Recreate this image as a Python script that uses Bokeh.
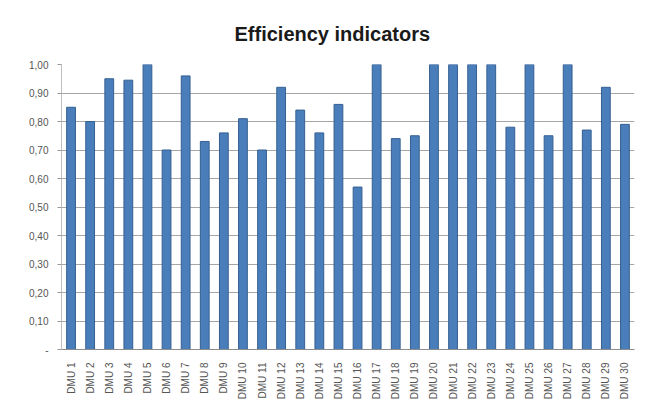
import math
from bokeh.plotting import figure
from bokeh.models import FixedTicker, Range1d, FactorRange, ColumnDataSource
from bokeh.embed import file_html
from bokeh.resources import INLINE

categories = ["DMU 1", "DMU 2", "DMU 3", "DMU 4", "DMU 5", "DMU 6", "DMU 7", "DMU 8",
              "DMU 9", "DMU 10", "DMU 11", "DMU 12", "DMU 13", "DMU 14", "DMU 15",
              "DMU 16", "DMU 17", "DMU 18", "DMU 19", "DMU 20", "DMU 21", "DMU 22",
              "DMU 23", "DMU 24", "DMU 25", "DMU 26", "DMU 27", "DMU 28", "DMU 29",
              "DMU 30"]
efficiency = [0.85, 0.80, 0.95, 0.945, 1.00, 0.70, 0.96, 0.73, 0.76, 0.81,
              0.70, 0.92, 0.84, 0.76, 0.86, 0.57, 1.00, 0.74, 0.75, 1.00,
              1.00, 1.00, 1.00, 0.78, 1.00, 0.75, 1.00, 0.77, 0.92, 0.79]
y_ticks = [0.0, 0.1, 0.2, 0.3, 0.4, 0.5, 0.6, 0.7, 0.8, 0.9, 1.0]
y_tick_labels = ["-", "0,10", "0,20", "0,30", "0,40", "0,50", "0,60", "0,70",
                 "0,80", "0,90", "1,00"]

source = ColumnDataSource(data=dict(cat=categories, val=efficiency))

p = figure(frame_width=573, frame_height=285, output_backend="svg", toolbar_location=None,
           x_range=FactorRange(*categories, range_padding=0.0),
           y_range=Range1d(0, 1.0),
           min_border_left=61, min_border_right=2, min_border_top=64,
           min_border_bottom=30)
p.outline_line_color = None
p.background_fill_color = "white"
p.border_fill_color = "white"

p.vbar(x="cat", top="val", width=0.46, source=source,
       fill_color="#4a7ebb", line_color="#355f91", line_width=1)

p.title.text = "Efficiency indicators"
p.title.align = "left"
p.title.offset = 173
p.title.text_font = "Liberation Sans"
p.title.text_font_size = "20px"
p.title.text_font_style = "bold"
p.title.text_color = "#1a1a1a"
p.title.standoff = 39

p.yaxis.ticker = FixedTicker(ticks=y_ticks)
p.yaxis.major_label_overrides = {t: l for t, l in zip(y_ticks, y_tick_labels)}
p.yaxis.major_label_text_font = "Liberation Sans"
p.yaxis.major_label_text_font_size = "10px"
p.yaxis.major_label_text_color = "#555555"
p.yaxis.axis_line_color = "#bfbfbf"
p.yaxis.major_tick_line_color = "#999999"
p.yaxis.major_tick_out = 4
p.yaxis.major_tick_in = 0
p.yaxis.minor_tick_line_color = None
p.yaxis.major_label_standoff = 9

p.xaxis.major_label_orientation = math.pi / 2
p.xaxis.major_label_overrides = {c: ("\u2007" + c if len(c) == 5 else c) for c in categories}
p.xaxis.major_label_text_font = "Liberation Sans"
p.xaxis.major_label_text_font_size = "10px"
p.xaxis.major_label_text_color = "#555555"
p.xaxis.axis_line_color = "#8c8c8c"
p.xaxis.major_tick_line_color = None
p.xaxis.major_label_standoff = 7

p.xgrid.grid_line_color = None
p.ygrid.grid_line_color = "#a6a6a6"
p.ygrid.grid_line_width = 1

open("out.html", "w").write(file_html(p, INLINE))
